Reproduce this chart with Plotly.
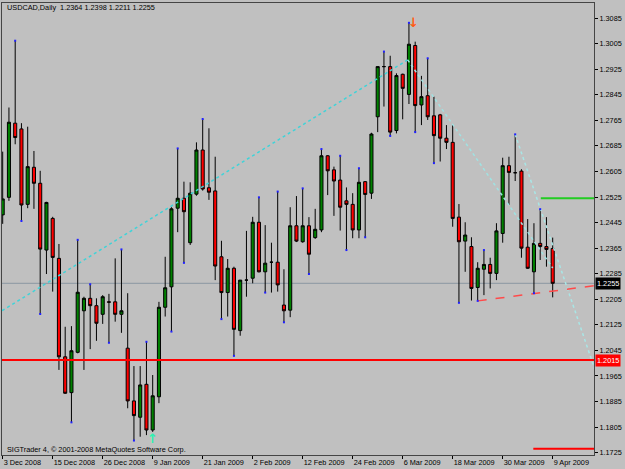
import plotly.graph_objects as go

# ---- data (USDCAD daily, 3 Dec 2008 .. 9 Apr 2009) ----
opens = [1.2469, 1.2524, 1.2756, 1.2738, 1.2502, 1.2618, 1.2568, 1.2359, 1.2458, 1.2333,
         1.2025, 1.1913, 1.2039, 1.2169, 1.2208, 1.2185, 1.2158, 1.2197, 1.2197, 1.2158,
         1.2052, 1.1887, 1.1836, 1.1939, 1.1796, 1.1900, 1.2180, 1.2244, 1.2490, 1.2521,
         1.2382, 1.2534, 1.2672, 1.2554, 1.2544, 1.2338, 1.2226, 1.2302, 1.2107, 1.2265,
         1.2271, 1.2446, 1.2291, 1.2321, 1.2321, 1.2187, 1.2171, 1.2435, 1.2385, 1.2435,
         1.2398, 1.2422, 1.2654, 1.2610, 1.2578, 1.2513, 1.2502, 1.2422, 1.2573, 1.2537,
         1.2776, 1.2933, 1.2933, 1.2733, 1.2909, 1.2846, 1.2999, 1.2813, 1.2842, 1.2779,
         1.2782, 1.2709, 1.2696, 1.2462, 1.2387, 1.2370, 1.2242, 1.2299, 1.2314, 1.2286,
         1.2411, 1.2623, 1.2601, 1.2606, 1.2368, 1.2291, 1.2380, 1.2370, 1.2364]
highs = [1.2667, 1.2805, 1.3014, 1.2756, 1.2745, 1.2669, 1.2607, 1.2510, 1.2463, 1.2378,
         1.2119, 1.2121, 1.2391, 1.2213, 1.2252, 1.2208, 1.2218, 1.2222, 1.2333, 1.2361,
         1.2224, 1.1996, 1.1996, 1.2072, 1.1968, 1.2197, 1.2338, 1.2493, 1.2677, 1.2573,
         1.2571, 1.2696, 1.2769, 1.2740, 1.2651, 1.2388, 1.2331, 1.2307, 1.2265, 1.2419,
         1.2463, 1.2524, 1.2437, 1.2382, 1.2542, 1.2299, 1.2493, 1.2528, 1.2552, 1.2462,
         1.2488, 1.2675, 1.2656, 1.2620, 1.2654, 1.2555, 1.2537, 1.2615, 1.2575, 1.2726,
         1.2933, 1.2980, 1.2967, 1.2912, 1.2911, 1.3070, 1.3011, 1.2904, 1.2959, 1.2839,
         1.2785, 1.2750, 1.2750, 1.2503, 1.2446, 1.2399, 1.2321, 1.2359, 1.2335, 1.2443,
         1.2648, 1.2651, 1.2721, 1.2612, 1.2456, 1.2443, 1.2487, 1.2462, 1.2398]
lows = [1.2441, 1.2513, 1.2690, 1.2450, 1.2490, 1.2488, 1.2159, 1.2284, 1.2229, 1.1984,
        1.1909, 1.1820, 1.2036, 1.1984, 1.2049, 1.2075, 1.2128, 1.2069, 1.2135, 1.2100,
        1.1864, 1.1763, 1.1775, 1.1780, 1.1790, 1.1880, 1.2151, 1.2104, 1.2415, 1.2319,
        1.2375, 1.2529, 1.2545, 1.2516, 1.2265, 1.2143, 1.2151, 1.2028, 1.2091, 1.2213,
        1.2255, 1.2289, 1.2226, 1.2226, 1.2229, 1.2133, 1.2149, 1.2384, 1.2382, 1.2284,
        1.2394, 1.2415, 1.2531, 1.2466, 1.2420, 1.2359, 1.2396, 1.2396, 1.2399, 1.2519,
        1.2728, 1.2808, 1.2716, 1.2724, 1.2768, 1.2816, 1.2728, 1.2750, 1.2766, 1.2631,
        1.2636, 1.2675, 1.2432, 1.2194, 1.2291, 1.2201, 1.2200, 1.2218, 1.2239, 1.2265,
        1.2382, 1.2500, 1.2575, 1.2335, 1.2300, 1.2224, 1.2328, 1.2307, 1.2211]
closes = [1.2519, 1.2759, 1.2711, 1.2500, 1.2620, 1.2568, 1.2362, 1.2508, 1.2336, 1.2025,
          1.1911, 1.2044, 1.2227, 1.2208, 1.2185, 1.2130, 1.2213, 1.2196, 1.2158, 1.2169,
          1.1887, 1.1841, 1.1937, 1.1796, 1.1903, 1.2180, 1.2241, 1.2488, 1.2521, 1.2479,
          1.2537, 1.2672, 1.2550, 1.2540, 1.2309, 1.2226, 1.2302, 1.2111, 1.2265, 1.2265,
          1.2446, 1.2291, 1.2318, 1.2321, 1.2250, 1.2169, 1.2435, 1.2387, 1.2435, 1.2346,
          1.2424, 1.2654, 1.2607, 1.2575, 1.2493, 1.2502, 1.2422, 1.2571, 1.2533, 1.2722,
          1.2933, 1.2933, 1.2728, 1.2905, 1.2865, 1.3003, 1.2811, 1.2839, 1.2776, 1.2717,
          1.2709, 1.2696, 1.2458, 1.2385, 1.2406, 1.2239, 1.2302, 1.2314, 1.2286, 1.2419,
          1.2623, 1.2602, 1.2601, 1.2365, 1.2302, 1.2380, 1.2370, 1.2361, 1.2255]

date_ticks = [0, 8, 16, 24, 32, 40, 48, 56, 64, 72, 80, 88]
date_labels = ["3 Dec 2008", "15 Dec 2008", "26 Dec 2008", "9 Jan 2009", "21 Jan 2009",
               "2 Feb 2009", "12 Feb 2009", "24 Feb 2009", "6 Mar 2009", "18 Mar 2009",
               "30 Mar 2009", "9 Apr 2009"]
price_ticks = [1.1725, 1.1805, 1.1885, 1.1965, 1.2045, 1.2125, 1.2205, 1.2285, 1.2365,
               1.2445, 1.2525, 1.2605, 1.2685, 1.2765, 1.2845, 1.2925, 1.3005, 1.3085]

fractal_up = [2, 12, 14, 19, 23, 28, 32, 41, 44, 48, 51, 54, 57, 61, 65, 68, 77, 82, 86]
fractal_down = [3, 6, 11, 17, 21, 27, 29, 35, 37, 42, 45, 49, 55, 58, 62, 66, 69, 73, 76, 85]

# drawn objects (bar index, price)
trend_up_x, trend_up_y = [-5, 64.8], [1.2110, 1.2954]
trend_dn_x, trend_dn_y = [64.8, 88], [1.2954, 1.2303]
trend_b_x, trend_b_y = [82, 96], [1.2721, 1.1913]
support_x, support_y = [76, 96], [1.2200, 1.2251]

bid_price = 1.2255
red_level = 1.2015
green_level, green_start = 1.2521, 86.1
low_red_level, low_red_start = 1.1737, 84.9

header = "USDCAD,Daily\u00a0\u00a01.2364 1.2398 1.2211 1.2255"
copyright_txt = "SIGTrader 4, \u00a9 2001-2008 MetaQuotes Software Corp."

x_range = [-0.11, 94.61]
y_range = [1.17178, 1.3132]

bars = list(range(len(opens)))
FONT = "Liberation Sans"
FS = 7.3

fig = go.Figure()

for xs, ys, col in [(trend_up_x, trend_up_y, "#3FD3D8"),
                    (trend_dn_x, trend_dn_y, "#9FE3E3"),
                    (trend_b_x, trend_b_y, "#A8E6E6")]:
    fig.add_trace(go.Scatter(x=xs, y=ys, mode="lines", hoverinfo="skip",
                             line=dict(color=col, width=1.5, dash="dot")))
fig.add_trace(go.Scatter(x=support_x, y=support_y, mode="lines", hoverinfo="skip",
                         line=dict(color="#FF4A4A", width=1.5, dash="dash")))

fig.add_trace(go.Candlestick(
    x=bars, open=opens, high=highs, low=lows, close=closes,
    increasing=dict(fillcolor="#008000", line=dict(color="#000000", width=1)),
    decreasing=dict(fillcolor="#FF0000", line=dict(color="#000000", width=1)),
    whiskerwidth=0, hoverinfo="skip"))

fig.add_trace(go.Scatter(x=fractal_up, y=[highs[i] for i in fractal_up], mode="markers",
                         marker=dict(symbol="square", size=2, color="#2020FF"), hoverinfo="skip"))
fig.add_trace(go.Scatter(x=fractal_down, y=[lows[i] for i in fractal_down], mode="markers",
                         marker=dict(symbol="square", size=2, color="#2020FF"), hoverinfo="skip"))

shapes = [
    dict(type="line", xref="paper", x0=0, x1=1, yref="y", y0=bid_price, y1=bid_price,
         line=dict(color="#8A96A2", width=1), layer="below"),
    dict(type="line", xref="paper", x0=0, x1=1, yref="y", y0=red_level, y1=red_level,
         line=dict(color="#FF0000", width=2)),
    dict(type="line", xref="x", x0=green_start, x1=x_range[1], yref="y", y0=green_level,
         y1=green_level, line=dict(color="#22CC22", width=2)),
    dict(type="line", xref="x", x0=low_red_start, x1=x_range[1], yref="y", y0=low_red_level,
         y1=low_red_level, line=dict(color="#FF0000", width=2)),
]

annotations = [
    dict(text=header, xref="paper", yref="paper", x=0, y=0.99, xanchor="left", yanchor="middle",
         xshift=3, showarrow=False, font=dict(family=FONT, size=FS, color="black")),
    dict(text=copyright_txt, xref="paper", yref="paper", x=0, y=0.0126, xanchor="left",
         yanchor="middle", xshift=3, showarrow=False, font=dict(family=FONT, size=FS, color="black")),
    dict(text=f"{bid_price:.4f}", xref="paper", yref="y", x=1, y=bid_price, xanchor="left",
         yanchor="middle", xshift=1, showarrow=False, bgcolor="#000000", borderpad=1,
         font=dict(family=FONT, size=FS, color="white")),
    dict(text=f"{red_level:.4f}", xref="paper", yref="y", x=1, y=red_level, xanchor="left",
         yanchor="middle", xshift=1, showarrow=False, bgcolor="#FF0000", borderpad=1,
         font=dict(family=FONT, size=FS, color="white")),
    dict(text="<b>\u2193</b>", xref="x", yref="y", x=65.7, y=highs[65], showarrow=False,
         font=dict(family="DejaVu Sans", size=13, color="#FF5A10")),
    dict(text="<b>\u2191</b>", xref="x", yref="y", x=24, y=1.1769, showarrow=False,
         font=dict(family="DejaVu Sans", size=13, color="#30F0B0")),
]

fig.update_layout(
    width=625, height=469,
    margin=dict(l=2, r=31, t=3, b=14, autoexpand=False),
    paper_bgcolor="#C0C0C0", plot_bgcolor="#C0C0C0",
    showlegend=False,
    font=dict(family=FONT, size=FS, color="black"),
    shapes=shapes, annotations=annotations,
    xaxis=dict(range=x_range, tickmode="array", tickvals=date_ticks, ticktext=date_labels,
               ticks="outside", ticklen=3, tickcolor="black", ticklabelposition="outside right",
               tickangle=0, automargin=False,
               showline=True, linecolor="#454545", linewidth=1, mirror=True,
               showgrid=False, zeroline=False, rangeslider=dict(visible=False),
               tickfont=dict(family=FONT, size=FS, color="black")),
    yaxis=dict(range=y_range, side="right", tickmode="array", tickvals=price_ticks,
               ticktext=[f"{v:.4f}" for v in price_ticks], automargin=False,
               ticks="outside", ticklen=3, tickcolor="black",
               showline=True, linecolor="#454545", linewidth=1, mirror=True,
               showgrid=False, zeroline=False,
               tickfont=dict(family=FONT, size=FS, color="black")),
)

fig.write_html("out.html")
